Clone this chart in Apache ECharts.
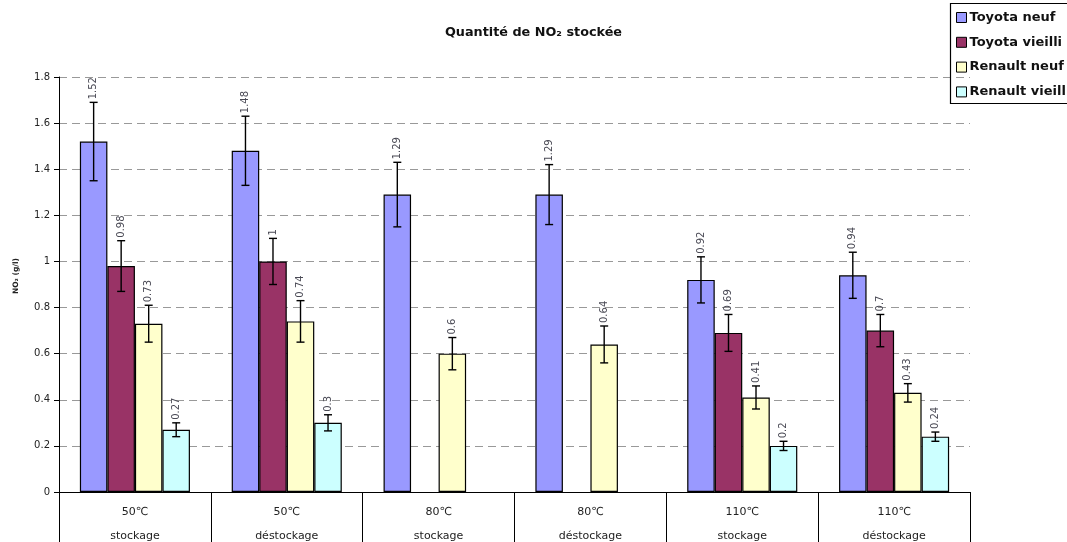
<!DOCTYPE html>
<html>
<head>
<meta charset="utf-8">
<script src="https://cdn.jsdelivr.net/npm/echarts@6/dist/echarts.min.js"></script>
<style>html,body{margin:0;padding:0;background:#fff;}#c{width:1067px;height:542px;}</style>
</head>
<body>
<div id="c"></div>
<script>
const categories = ['50℃\nstockage', '50℃\ndéstockage', '80℃\nstockage', '80℃\ndéstockage', '110℃\nstockage', '110℃\ndéstockage'];
const seriesNames = ['Toyota neuf', 'Toyota vieilli', 'Renault neuf', 'Renault vieilli'];
const toyotaNeuf = [1.52, 1.48, 1.29, 1.29, 0.92, 0.94];
const toyotaVieilli = [0.98, 1, null, null, 0.69, 0.7];
const renaultNeuf = [0.73, 0.74, 0.6, 0.64, 0.41, 0.43];
const renaultVieilli = [0.27, 0.3, null, null, 0.2, 0.24];
const errToyotaNeuf = [0.17, 0.15, 0.14, 0.13, 0.10, 0.10];
const errToyotaVieilli = [0.11, 0.10, null, null, 0.08, 0.07];
const errRenaultNeuf = [0.08, 0.09, 0.07, 0.08, 0.05, 0.04];
const errRenaultVieilli = [0.03, 0.035, null, null, 0.02, 0.02];
const yTicks = [0, 0.2, 0.4, 0.6, 0.8, 1, 1.2, 1.4, 1.6, 1.8];

const values = [toyotaNeuf, toyotaVieilli, renaultNeuf, renaultVieilli];
const errors = [errToyotaNeuf, errToyotaVieilli, errRenaultNeuf, errRenaultVieilli];
const colors = ['#9999FF', '#993366', '#FFFFCC', '#CCFFFF'];
const GAP = 0.275;

const errData = [];
values.forEach((arr, j) => arr.forEach((v, i) => {
  if (v != null) errData.push([i, v, errors[j][i], j]);
}));

const barSeries = values.map((arr, j) => ({
  name: seriesNames[j], type: 'bar', data: arr.map(v => v == null ? '-' : v),
  barGap: '0%', barCategoryGap: (GAP * 100) + '%',
  itemStyle: { color: colors[j], borderColor: '#000', borderWidth: 1.2 },
  z: 2
}));

const errSeries = {
  type: 'custom', z: 5, silent: true,
  encode: { x: 0, y: 1 },
  data: errData,
  renderItem: function (params, api) {
    const cat = api.value(0), val = api.value(1), err = api.value(2), j = api.value(3);
    const band = api.size([1, 0])[0];
    const bw = band * (1 - GAP) / 4;
    const c = api.coord([cat, val]);
    const x = c[0] + (j - 1.5) * bw;
    const yT = api.coord([cat, val + err])[1];
    const yB = api.coord([cat, val - err])[1];
    const st = { stroke: '#000', lineWidth: 1.4 };
    return {
      type: 'group', children: [
        { type: 'line', shape: { x1: x, y1: yT, x2: x, y2: yB }, style: st },
        { type: 'line', shape: { x1: x - 4, y1: yT, x2: x + 4, y2: yT }, style: st },
        { type: 'line', shape: { x1: x - 4, y1: yB, x2: x + 4, y2: yB }, style: st },
        { type: 'text', x: x, y: yT - 3, rotation: Math.PI / 2,
          style: { text: String(val), align: 'left', verticalAlign: 'middle', textAlign: 'left', textVerticalAlign: 'middle',
                   font: '10px "DejaVu Sans"', fill: '#4a4a55' } }
      ]
    };
  }
};

const chart = echarts.init(document.getElementById('c'), null, { renderer: 'canvas' });
chart.setOption({
  animation: false,
  backgroundColor: '#fff',
  title: {
    text: 'Quantité de NO₂ stockée', left: 'center', top: 21,
    textStyle: { fontFamily: 'DejaVu Sans', fontWeight: 'bold', fontSize: 12.8, color: '#111' }
  },
  legend: {
    orient: 'vertical', left: 951, top: 3,
    data: seriesNames,
    borderWidth: 0, padding: [8, 5, 6, 5],
    itemWidth: 10, itemHeight: 10, itemGap: 11.8,
    icon: 'rect',
    itemStyle: { borderColor: '#000', borderWidth: 1 },
    textStyle: { fontFamily: 'DejaVu Sans', fontWeight: 'bold', fontSize: 13, color: '#111', padding: [0, 0, 0, -2] }
  },
  graphic: [{
    type: 'rect', shape: { x: 950.5, y: 3.5, width: 200, height: 100 },
    style: { fill: 'none', stroke: '#000', lineWidth: 1.2 }, z: 10
  }, {
    type: 'text', x: 16, y: 276, rotation: Math.PI / 2,
    style: { text: 'NO₂ (g/l)', align: 'center', verticalAlign: 'middle', textAlign: 'center', textVerticalAlign: 'middle',
             font: 'bold 7.5px "DejaVu Sans"', fill: '#222' }
  }],
  grid: { left: 59, right: 97, top: 77, bottom: 50, containLabel: false, outerBoundsMode: 'none' },
  xAxis: {
    type: 'category', data: categories, boundaryGap: true,
    axisLine: { lineStyle: { color: '#000', width: 1 } },
    axisTick: { show: true, interval: 0, alignWithLabel: false, length: 50, lineStyle: { color: '#000', width: 1 } },
    axisLabel: { interval: 0, margin: 8, lineHeight: 24, fontFamily: 'DejaVu Sans', fontSize: 11, color: '#222' },
    splitLine: { show: false }
  },
  yAxis: {
    type: 'value', min: yTicks[0], max: yTicks[yTicks.length - 1], interval: 0.2,
    axisLine: { show: true, lineStyle: { color: '#000', width: 1 } },
    axisTick: { show: true, length: 5, lineStyle: { color: '#000' } },
    axisLabel: { margin: 9, fontFamily: 'DejaVu Sans', fontSize: 10, color: '#222',
                 formatter: v => String(Math.round(v * 10) / 10) },
    splitLine: { show: true, lineStyle: { color: '#999', type: [8, 5], width: 1 } }
  },
  series: barSeries.concat([errSeries])
});
</script>
</body>
</html>
